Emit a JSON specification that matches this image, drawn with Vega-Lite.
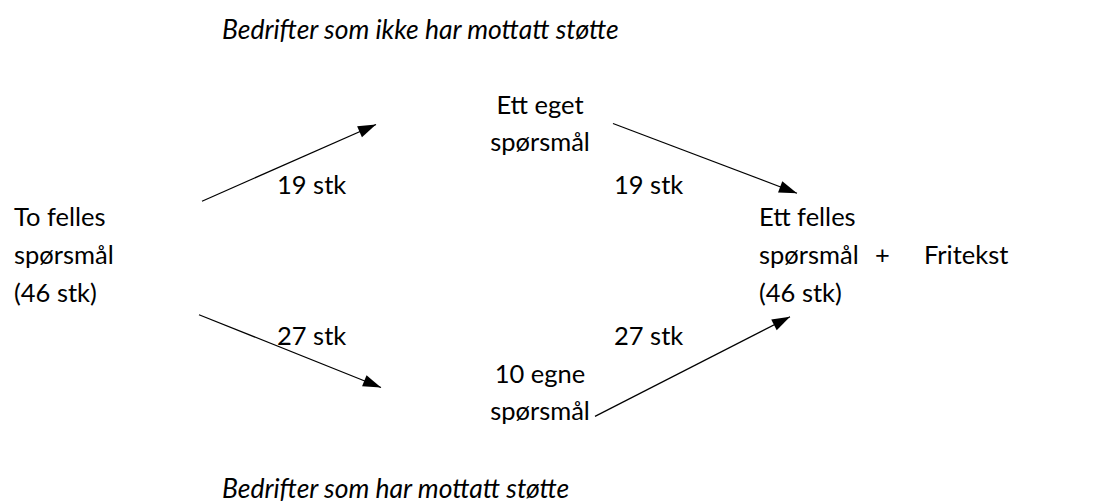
{
  "$schema": "https://vega.github.io/schema/vega-lite/v6.json",
  "width": 1102,
  "height": 504,
  "autosize": {"type": "fit", "contains": "padding"},
  "padding": 0,
  "background": "white",
  "config": {"view": {"stroke": null}},
  "datasets": {
    "arrows": [
      {"from": "To felles", "to": "Ett eget", "x": 202, "y": 202, "x2": 376, "y2": 125},
      {"from": "Ett eget", "to": "Ett felles", "x": 613, "y": 124, "x2": 797, "y2": 194},
      {"from": "To felles", "to": "10 egne", "x": 199, "y": 316, "x2": 381, "y2": 389},
      {"from": "10 egne", "to": "Ett felles", "x": 595, "y": 418, "x2": 790, "y2": 318}
    ],
    "labels": [
      {"text": "To felles", "x": 14, "y": 219},
      {"text": "spørsmål", "x": 14, "y": 257},
      {"text": "(46 stk)", "x": 14, "y": 295},
      {"text": "19 stk", "x": 277, "y": 187},
      {"text": "19 stk", "x": 614, "y": 187},
      {"text": "Ett felles", "x": 759, "y": 219},
      {"text": "spørsmål", "x": 759, "y": 257},
      {"text": "+", "x": 875, "y": 257},
      {"text": "Fritekst", "x": 924, "y": 257},
      {"text": "(46 stk)", "x": 759, "y": 295},
      {"text": "27 stk", "x": 277, "y": 338},
      {"text": "27 stk", "x": 614, "y": 338}
    ],
    "centered": [
      {"text": "Ett eget", "x": 540, "y": 106},
      {"text": "spørsmål", "x": 540, "y": 144},
      {"text": "10 egne", "x": 540, "y": 376},
      {"text": "spørsmål", "x": 540, "y": 414}
    ],
    "titles": [
      {"text": "Bedrifter som ikke har mottatt støtte", "x": 222, "y": 31},
      {"text": "Bedrifter som har mottatt støtte", "x": 222, "y": 492}
    ]
  },
  "layer": [
    {
      "data": {"name": "arrows"},
      "mark": {"type": "rule", "color": "black", "strokeWidth": 1.2},
      "encoding": {
        "x": {"field": "x", "type": "quantitative", "scale": {"domain": [0, 1102]}, "axis": null},
        "y": {"field": "y", "type": "quantitative", "scale": {"domain": [0, 504], "reverse": true}, "axis": null},
        "x2": {"field": "x2"},
        "y2": {"field": "y2"}
      }
    },
    {
      "data": {"name": "arrows"},
      "transform": [
        {"calculate": "atan2(datum.y2 - datum.y, datum.x2 - datum.x) * 180 / PI", "as": "ang"}
      ],
      "mark": {"type": "point", "filled": true, "color": "black", "opacity": 1, "shape": "M0,0L-3.6,-1.2L-3.6,1.2Z", "size": 100},
      "encoding": {
        "x": {"field": "x2", "type": "quantitative", "scale": {"domain": [0, 1102]}, "axis": null},
        "y": {"field": "y2", "type": "quantitative", "scale": {"domain": [0, 504], "reverse": true}, "axis": null},
        "angle": {"field": "ang", "type": "quantitative", "scale": null}
      }
    },
    {
      "data": {"name": "labels"},
      "mark": {"type": "text", "align": "left", "baseline": "middle", "font": "Lato", "fontSize": 25.5, "color": "black"},
      "encoding": {
        "x": {"field": "x", "type": "quantitative", "scale": {"domain": [0, 1102]}, "axis": null},
        "y": {"field": "y", "type": "quantitative", "scale": {"domain": [0, 504], "reverse": true}, "axis": null},
        "text": {"field": "text"}
      }
    },
    {
      "data": {"name": "centered"},
      "mark": {"type": "text", "align": "center", "baseline": "middle", "font": "Lato", "fontSize": 25.5, "color": "black"},
      "encoding": {
        "x": {"field": "x", "type": "quantitative", "scale": {"domain": [0, 1102]}, "axis": null},
        "y": {"field": "y", "type": "quantitative", "scale": {"domain": [0, 504], "reverse": true}, "axis": null},
        "text": {"field": "text"}
      }
    },
    {
      "data": {"name": "titles"},
      "mark": {"type": "text", "align": "left", "baseline": "middle", "font": "Lato", "fontSize": 26.5, "fontStyle": "italic", "color": "black"},
      "encoding": {
        "x": {"field": "x", "type": "quantitative", "scale": {"domain": [0, 1102]}, "axis": null},
        "y": {"field": "y", "type": "quantitative", "scale": {"domain": [0, 504], "reverse": true}, "axis": null},
        "text": {"field": "text"}
      }
    }
  ]
}
